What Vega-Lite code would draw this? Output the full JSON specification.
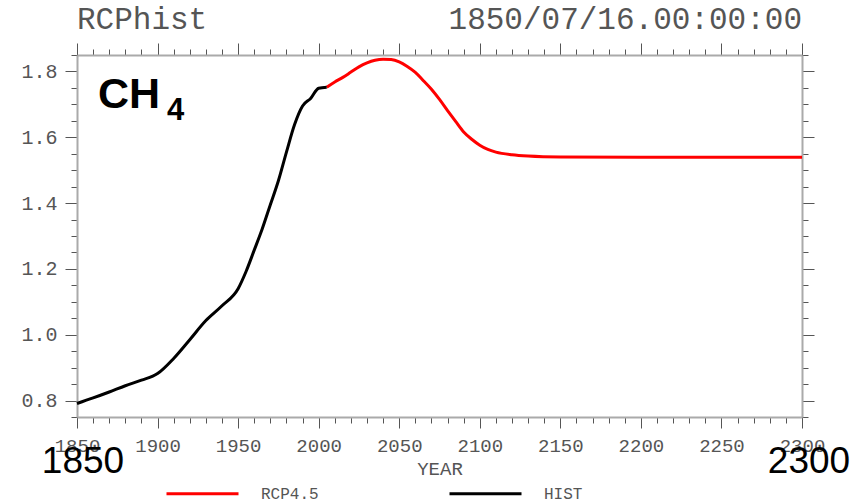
{
  "$schema": "https://vega.github.io/schema/vega-lite/v6.json",
  "autosize": "none",
  "width": 725,
  "height": 362,
  "padding": {"left": 77, "top": 55, "right": 52, "bottom": 86},
  "background": "white",
  "config": {"view": {"stroke": null}},
  "datasets": {
    "ch4": [
      {"year": 1850, "ch4": 0.791, "series": "HIST"},
      {"year": 1860, "ch4": 0.808, "series": "HIST"},
      {"year": 1870, "ch4": 0.826, "series": "HIST"},
      {"year": 1880, "ch4": 0.845, "series": "HIST"},
      {"year": 1890, "ch4": 0.862, "series": "HIST"},
      {"year": 1900, "ch4": 0.882, "series": "HIST"},
      {"year": 1910, "ch4": 0.928, "series": "HIST"},
      {"year": 1920, "ch4": 0.985, "series": "HIST"},
      {"year": 1930, "ch4": 1.043, "series": "HIST"},
      {"year": 1940, "ch4": 1.088, "series": "HIST"},
      {"year": 1950, "ch4": 1.14, "series": "HIST"},
      {"year": 1955, "ch4": 1.193, "series": "HIST"},
      {"year": 1960, "ch4": 1.257, "series": "HIST"},
      {"year": 1965, "ch4": 1.322, "series": "HIST"},
      {"year": 1970, "ch4": 1.395, "series": "HIST"},
      {"year": 1975, "ch4": 1.468, "series": "HIST"},
      {"year": 1980, "ch4": 1.555, "series": "HIST"},
      {"year": 1985, "ch4": 1.638, "series": "HIST"},
      {"year": 1990, "ch4": 1.695, "series": "HIST"},
      {"year": 1995, "ch4": 1.718, "series": "HIST"},
      {"year": 2000, "ch4": 1.749, "series": "HIST"},
      {"year": 2005, "ch4": 1.752, "series": "HIST"},
      {"year": 2005, "ch4": 1.752, "series": "RCP4.5"},
      {"year": 2010, "ch4": 1.768, "series": "RCP4.5"},
      {"year": 2015, "ch4": 1.782, "series": "RCP4.5"},
      {"year": 2020, "ch4": 1.798, "series": "RCP4.5"},
      {"year": 2025, "ch4": 1.814, "series": "RCP4.5"},
      {"year": 2030, "ch4": 1.826, "series": "RCP4.5"},
      {"year": 2035, "ch4": 1.834, "series": "RCP4.5"},
      {"year": 2040, "ch4": 1.837, "series": "RCP4.5"},
      {"year": 2045, "ch4": 1.836, "series": "RCP4.5"},
      {"year": 2050, "ch4": 1.829, "series": "RCP4.5"},
      {"year": 2055, "ch4": 1.815, "series": "RCP4.5"},
      {"year": 2060, "ch4": 1.797, "series": "RCP4.5"},
      {"year": 2065, "ch4": 1.772, "series": "RCP4.5"},
      {"year": 2070, "ch4": 1.746, "series": "RCP4.5"},
      {"year": 2075, "ch4": 1.715, "series": "RCP4.5"},
      {"year": 2080, "ch4": 1.681, "series": "RCP4.5"},
      {"year": 2085, "ch4": 1.648, "series": "RCP4.5"},
      {"year": 2090, "ch4": 1.616, "series": "RCP4.5"},
      {"year": 2095, "ch4": 1.594, "series": "RCP4.5"},
      {"year": 2100, "ch4": 1.576, "series": "RCP4.5"},
      {"year": 2105, "ch4": 1.563, "series": "RCP4.5"},
      {"year": 2110, "ch4": 1.555, "series": "RCP4.5"},
      {"year": 2120, "ch4": 1.547, "series": "RCP4.5"},
      {"year": 2130, "ch4": 1.543, "series": "RCP4.5"},
      {"year": 2150, "ch4": 1.54, "series": "RCP4.5"},
      {"year": 2200, "ch4": 1.539, "series": "RCP4.5"},
      {"year": 2250, "ch4": 1.539, "series": "RCP4.5"},
      {"year": 2300, "ch4": 1.539, "series": "RCP4.5"}
    ]
  },
  "resolve": {"axis": {"x": "independent", "y": "independent"}},
  "layer": [
    {
      "data": {"name": "ch4"},
      "transform": [{"filter": "datum.series === 'RCP4.5'"}],
      "mark": {"type": "line", "strokeWidth": 3, "interpolate": "monotone"},
      "encoding": {
        "x": {"field": "year", "type": "quantitative",
          "scale": {"domain": [1850, 2300], "nice": false, "zero": false},
          "axis": {
            "orient": "bottom", "grid": false, "format": "d",
            "values": [1850,1860,1870,1880,1890,1900,1910,1920,1930,1940,1950,1960,1970,1980,1990,2000,2010,2020,2030,2040,2050,2060,2070,2080,2090,2100,2110,2120,2130,2140,2150,2160,2170,2180,2190,2200,2210,2220,2230,2240,2250,2260,2270,2280,2290,2300],
            "labelExpr": "datum.value % 50 === 0 ? datum.label : ''",
            "tickSize": {"condition": {"test": "datum.value % 50 === 0", "value": 11}, "value": 6},
            "tickColor": "#555", "tickWidth": 1,
            "domainColor": "#aaa", "domainWidth": 2,
            "labelFont": "Liberation Mono", "labelFontSize": 19, "labelColor": "#555",
            "labelPadding": 8, "labelFlush": false, "labelOverlap": false,
            "title": "YEAR", "titleFont": "Liberation Mono", "titleFontSize": 19,
            "titleFontWeight": "normal", "titleColor": "#555", "titlePadding": 4
          }},
        "y": {"field": "ch4", "type": "quantitative",
          "scale": {"domain": [0.75, 1.85], "nice": false, "zero": false},
          "axis": {
            "orient": "left", "grid": false, "title": null,
            "values": [0.75,0.8,0.85,0.9,0.95,1.0,1.05,1.1,1.15,1.2,1.25,1.3,1.35,1.4,1.45,1.5,1.55,1.6,1.65,1.7,1.75,1.8,1.85],
            "labelExpr": "abs(datum.value*5 - round(datum.value*5)) < 0.001 ? format(datum.value, '.1f') : ''",
            "tickSize": {"condition": {"test": "abs(datum.value*5 - round(datum.value*5)) < 0.001", "value": 12}, "value": 6},
            "tickColor": "#555", "tickWidth": 1,
            "domainColor": "#aaa", "domainWidth": 2,
            "labelFont": "Liberation Mono", "labelFontSize": 20, "labelColor": "#555",
            "labelPadding": 8, "labelFlush": false, "labelOverlap": false
          }},
        "color": {"field": "series", "type": "nominal",
          "scale": {"domain": ["RCP4.5", "HIST"], "range": ["#ff0000", "#000000"]},
          "legend": {
            "title": null, "orient": "none", "direction": "horizontal",
            "legendX": 88, "legendY": 401,
            "symbolType": "stroke", "symbolSize": 5184, "symbolStrokeWidth": 3,
            "labelFont": "Liberation Mono", "labelFontSize": 16, "labelColor": "#555",
            "labelOffset": 21, "columnPadding": 124
          }}
      }
    },
    {
      "data": {"name": "ch4"},
      "transform": [{"filter": "datum.series === 'HIST'"}],
      "mark": {"type": "line", "strokeWidth": 3, "interpolate": "monotone"},
      "encoding": {
        "x": {"field": "year", "type": "quantitative",
          "axis": {
            "orient": "top", "grid": false, "labels": false, "title": null,
            "values": [1850,1860,1870,1880,1890,1900,1910,1920,1930,1940,1950,1960,1970,1980,1990,2000,2010,2020,2030,2040,2050,2060,2070,2080,2090,2100,2110,2120,2130,2140,2150,2160,2170,2180,2190,2200,2210,2220,2230,2240,2250,2260,2270,2280,2290,2300],
            "tickSize": {"condition": {"test": "datum.value % 50 === 0", "value": 12}, "value": 6},
            "tickColor": "#555", "tickWidth": 1,
            "domainColor": "#aaa", "domainWidth": 2
          }},
        "y": {"field": "ch4", "type": "quantitative",
          "axis": {
            "orient": "right", "grid": false, "labels": false, "title": null,
            "values": [0.75,0.8,0.85,0.9,0.95,1.0,1.05,1.1,1.15,1.2,1.25,1.3,1.35,1.4,1.45,1.5,1.55,1.6,1.65,1.7,1.75,1.8,1.85],
            "tickSize": {"condition": {"test": "abs(datum.value*5 - round(datum.value*5)) < 0.001", "value": 12}, "value": 6},
            "tickColor": "#555", "tickWidth": 1,
            "domainColor": "#aaa", "domainWidth": 2
          }},
        "color": {"field": "series", "type": "nominal"}
      }
    },
    {
      "data": {"values": [{}]},
      "mark": {"type": "text", "text": "RCPhist", "font": "Liberation Mono", "fontSize": 31, "color": "#555", "align": "left", "baseline": "alphabetic", "dy": -26},
      "encoding": {
        "x": {"datum": 1850, "type": "quantitative", "axis": null},
        "y": {"datum": 1.85, "type": "quantitative", "axis": null}
      }
    },
    {
      "data": {"values": [{}]},
      "mark": {"type": "text", "text": "1850/07/16.00:00:00", "font": "Liberation Mono", "fontSize": 31, "color": "#555", "align": "right", "baseline": "alphabetic", "dy": -26},
      "encoding": {
        "x": {"datum": 2300, "type": "quantitative", "axis": null},
        "y": {"datum": 1.85, "type": "quantitative", "axis": null}
      }
    },
    {
      "data": {"values": [{}]},
      "mark": {"type": "text", "text": "CH", "font": "Liberation Sans", "fontSize": 43, "fontWeight": "bold", "color": "#000", "align": "left", "baseline": "alphabetic", "dx": 21, "dy": 53},
      "encoding": {
        "x": {"datum": 1850, "type": "quantitative", "axis": null},
        "y": {"datum": 1.85, "type": "quantitative", "axis": null}
      }
    },
    {
      "data": {"values": [{}]},
      "mark": {"type": "text", "text": "4", "font": "Liberation Sans", "fontSize": 31, "fontWeight": "bold", "color": "#000", "align": "left", "baseline": "alphabetic", "dx": 90, "dy": 65},
      "encoding": {
        "x": {"datum": 1850, "type": "quantitative", "axis": null},
        "y": {"datum": 1.85, "type": "quantitative", "axis": null}
      }
    },
    {
      "data": {"values": [{}]},
      "mark": {"type": "text", "text": "1850", "font": "Liberation Sans", "fontSize": 37, "color": "#000", "align": "center", "baseline": "alphabetic", "dx": 6, "dy": 56},
      "encoding": {
        "x": {"datum": 1850, "type": "quantitative", "axis": null},
        "y": {"datum": 0.75, "type": "quantitative", "axis": null}
      }
    },
    {
      "data": {"values": [{}]},
      "mark": {"type": "text", "text": "2300", "font": "Liberation Sans", "fontSize": 37, "color": "#000", "align": "center", "baseline": "alphabetic", "dx": 7, "dy": 56},
      "encoding": {
        "x": {"datum": 2300, "type": "quantitative", "axis": null},
        "y": {"datum": 0.75, "type": "quantitative", "axis": null}
      }
    }
  ]
}
